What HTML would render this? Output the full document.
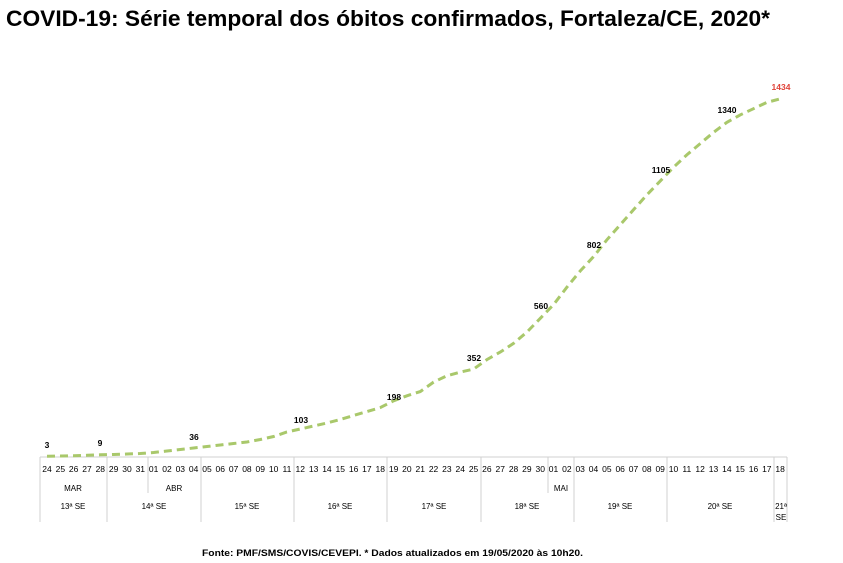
<!DOCTYPE html><html><head><meta charset="utf-8"><style>body{margin:0;background:#fff}svg{display:block;font-family:"Liberation Sans",sans-serif}</style></head><body>
<svg width="843" height="563" xmlns="http://www.w3.org/2000/svg">
<text x="6" y="26" font-size="22" font-weight="bold" fill="#000" textLength="764" lengthAdjust="spacingAndGlyphs">COVID-19: Série temporal dos óbitos  confirmados, Fortaleza/CE, 2020*</text>
<line x1="40" y1="457" x2="787" y2="457" stroke="#d0d0d0"/>
<g stroke="#d0d0d0">
<line x1="40" y1="457" x2="40" y2="522"/><line x1="787" y1="457" x2="787" y2="522"/>
<line x1="107" y1="457" x2="107" y2="522"/><line x1="148" y1="457" x2="148" y2="493"/>
<line x1="201" y1="457" x2="201" y2="522"/><line x1="294" y1="457" x2="294" y2="522"/>
<line x1="387" y1="457" x2="387" y2="522"/><line x1="481" y1="457" x2="481" y2="522"/>
<line x1="548" y1="457" x2="548" y2="493"/><line x1="574" y1="457" x2="574" y2="522"/>
<line x1="667" y1="457" x2="667" y2="522"/><line x1="774" y1="457" x2="774" y2="522"/>
</g>
<g id="d" font-size="8.5" fill="#000" text-anchor="middle"></g>
<g font-size="8" fill="#000" text-anchor="middle">
<text x="73" y="491">MAR</text><text x="174" y="491">ABR</text><text x="561" y="491">MAI</text>
<text x="73" y="509">13ª SE</text><text x="154" y="509">14ª SE</text><text x="247" y="509">15ª SE</text>
<text x="340" y="509">16ª SE</text><text x="434" y="509">17ª SE</text><text x="527" y="509">18ª SE</text>
<text x="620" y="509">19ª SE</text><text x="720" y="509">20ª SE</text>
<text x="781" y="509">21ª</text><text x="781" y="520">SE</text>
</g>
<polyline id="c" fill="none" stroke="#a9c86b" stroke-width="3" stroke-dasharray="8,5"/>
<g font-size="8.5" font-weight="bold" fill="#000" text-anchor="middle">
<text x="47" y="448">3</text><text x="100" y="446">9</text><text x="194" y="440">36</text>
<text x="301" y="423">103</text><text x="394" y="400">198</text><text x="474" y="361">352</text>
<text x="541" y="309">560</text><text x="594" y="248">802</text><text x="661" y="173">1105</text>
<text x="727" y="113">1340</text><text x="781" y="90" fill="#e0443a">1434</text>
</g>
<text x="202" y="556" font-size="9" font-weight="bold" fill="#000" textLength="381" lengthAdjust="spacingAndGlyphs">Fonte: PMF/SMS/COVIS/CEVEPI. * Dados atualizados em 19/05/2020 às 10h20.</text>
<script>
var days=[];for(var i=24;i<=31;i++)days.push(i);for(i=1;i<=30;i++)days.push(i);for(i=1;i<=18;i++)days.push(i);
var v=[3,4,5,7,9,10,12,14,18,24,30,36,42,48,54,60,70,82,100,112,124,136,150,166,182,198,225,245,262,300,325,340,352,390,420,455,500,555,610,680,745,802,870,930,990,1050,1105,1160,1210,1255,1300,1340,1370,1395,1420,1434];
var g=document.getElementById('d'),p=[],ns='http://www.w3.org/2000/svg';
for(i=0;i<56;i++){var x=47+i*13.33;p.push(x.toFixed(1)+','+(457-v[i]*0.2497).toFixed(1));
var t=document.createElementNS(ns,'text');t.setAttribute('x',x);t.setAttribute('y',472);t.textContent=(days[i]<10?'0':'')+days[i];g.appendChild(t);}
document.getElementById('c').setAttribute('points',p.join(' '));
</script>
</svg></body></html>
